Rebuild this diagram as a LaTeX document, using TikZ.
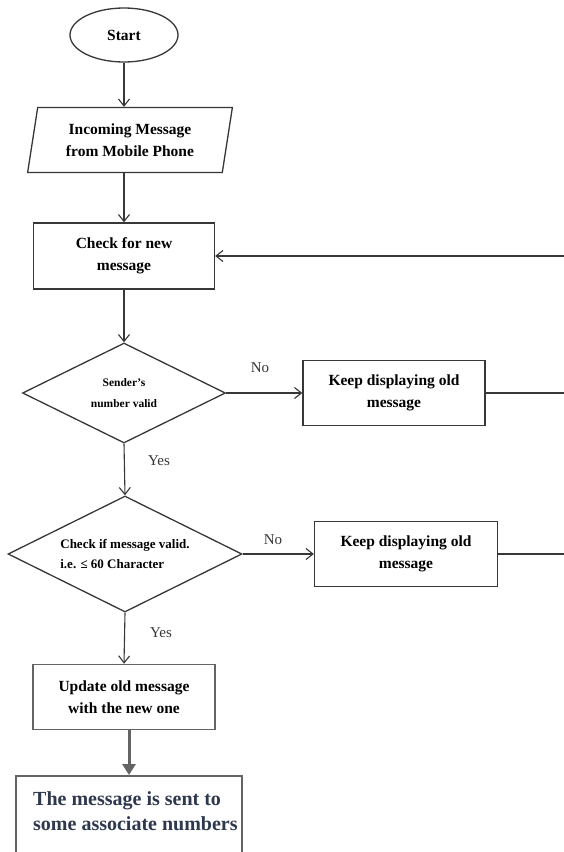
\documentclass[tikz,border=0pt]{standalone}
\usepackage{fontspec}
\setmainfont{Liberation Serif}
\usepackage{tikz}
\usetikzlibrary{shapes.geometric,positioning}
\usetikzlibrary{arrows.meta}
\definecolor{linegray}{RGB}{55,55,55}
\definecolor{boxgray}{RGB}{100,100,100}
\definecolor{navytext}{RGB}{46,56,78}
\tikzset{
    flowline/.style={
        line width=1.1pt,
        linegray
    },
    % thin arrow with an open head
    flowarrow/.style={
        flowline,
        -{Straight Barb[length=7pt, width=11pt]}
    },
    % thick grey arrow at the bottom
    thickarrow/.style={
        line width=3pt,
        boxgray,
        -{Triangle[length=11pt, width=13pt]}
    },
    procbox/.style={
        rectangle, draw=linegray, line width=1.3pt,
        minimum width=181pt, minimum height=66pt, inner sep=0pt,
        align=center, font=\bfseries\fontsize{15.5}{22}\selectfont
    },
    decisionbox/.style={
        diamond, draw=linegray, line width=1.3pt, aspect=2, inner sep=0pt,
        align=center
    },
    answer/.style={
        font=\fontsize{15}{18}\selectfont, text=linegray
    }
}

\begin{document}
\begin{tikzpicture}[x=1pt, y=-1pt]
	\useasboundingbox[fill=white] (0,0) rectangle (563,852);

	\node[ellipse, draw=linegray, line width=1.3pt, minimum width=108pt, minimum height=54pt,
	      font=\bfseries\fontsize{15.5}{22}\selectfont] (start) at (124,35) {Start};

	\node[trapezium, trapezium left angle=78, trapezium right angle=102, trapezium stretches=true,
	      draw=linegray, line width=1.3pt, minimum width=205pt, minimum height=65pt, inner sep=0pt,
	      align=center, font=\bfseries\fontsize{15.5}{22}\selectfont] (incoming) at (130,140)
	      {Incoming Message\\from Mobile Phone};

	\node[procbox] (check) at (124,256) {Check for new\\message};

	\node[decisionbox, minimum width=203pt, minimum height=100pt,
	      font=\bfseries\fontsize{11.5}{21}\selectfont] (sender) at (124,393)
	      {Sender’s\\number valid};
	\node[procbox, minimum width=182pt, minimum height=65pt] (keepA) at (394,393)
	      {Keep displaying old\\message};

	\node[decisionbox, minimum width=234pt, minimum height=116pt, align=left,
	      font=\bfseries\fontsize{13}{20}\selectfont] (length) at (125,554)
	      {Check if message valid.\\i.e. ≤ 60 Character};
	\node[procbox, minimum width=183pt, minimum height=65pt] (keepB) at (406,554)
	      {Keep displaying old\\message};

	\node[procbox, draw=boxgray, line width=1.6pt, minimum width=182pt, minimum height=65pt]
	      (update) at (124,697) {Update old message\\with the new one};

	% last box runs out of the page at the bottom
	\node[rectangle, draw=boxgray, line width=1.8pt, minimum width=226pt, minimum height=110pt,
	      anchor=north] (sent) at (129,775) {};
	\node[anchor=north west, inner sep=0pt, align=left, text=navytext,
	      font=\bfseries\fontsize{20}{25}\selectfont] (senttext) at (33,791)
	      {The message is sent to\\some associate numbers};

	\node[answer] (noA) at (260,368) {No};
	\node[answer] (yesA) at (159,461) {Yes};
	\node[answer] (noB) at (273,540) {No};
	\node[answer] (yesB) at (161,633) {Yes};

	% loop back to the check, outside the right edge
	\coordinate (loopR) at (575,256);

	\draw[flowarrow] (start.south) -- (start.south |- incoming.north);
	\draw[flowarrow] (incoming.south -| check.north) -- (check.north);
	\draw[flowarrow] (check.south) -- (sender.north);
	\draw[flowarrow] (sender.east) -- (keepA.west);
	\draw[flowarrow] (sender.south) -- (length.north);
	\draw[flowarrow] (length.east) -- (keepB.west);
	\draw[flowarrow] (length.south) -- (update.north);
	\draw[thickarrow] (update.south -| sent.north) -- (sent.north);

	\draw[flowarrow] (keepA.east) -| (loopR) |- (check.east);
	\draw[flowline] (keepB.east) -| (loopR);
\end{tikzpicture}
\end{document}
